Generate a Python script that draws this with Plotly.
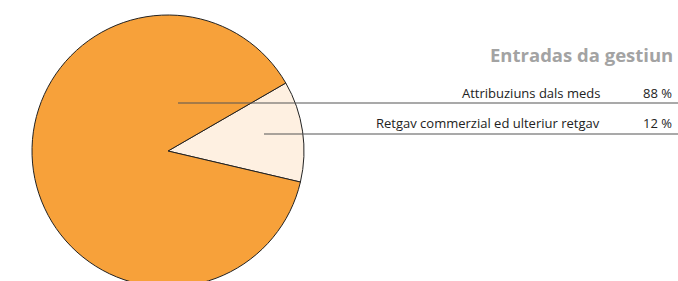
import plotly.graph_objects as go

# Data
labels = ["Retgav commerzial ed ulteriur retgav", "Attribuziuns dals meds"]
values = [12, 88]
colors = ["#FEF0E1", "#F7A13A"]
title_text = "Entradas da gestiun"

W, H = 678, 287

def px(x):
    return x / W

def py(y):
    return 1 - y / H

fig = go.Figure()
fig.add_trace(go.Pie(
    labels=labels,
    values=values,
    sort=False,
    direction="clockwise",
    rotation=60,
    marker=dict(colors=colors, line=dict(color="#222222", width=1)),
    textinfo="none",
    hoverinfo="label+percent",
    showlegend=False,
    domain=dict(x=[px(32), px(304)], y=[py(287), py(15)]),
))

font_family = "Open Sans, Noto Sans, sans-serif"

row_labels = [labels[1], labels[0]]
row_values = [values[1], values[0]]
row_text_y = [93, 123]
row_line_y = [103, 134]
row_line_x0 = [178, 264]

annotations = [dict(text="<b>" + title_text + "</b>", x=px(675), y=py(55), xref="paper", yref="paper",
                    xanchor="right", yanchor="middle", showarrow=False,
                    font=dict(size=18.5, color="#A3A3A3", family=font_family))]
shapes = []
for lab, val, ty, ly, lx0 in zip(row_labels, row_values, row_text_y, row_line_y, row_line_x0):
    annotations.append(dict(text=lab, x=px(602), y=py(ty), xref="paper", yref="paper",
                            xanchor="right", yanchor="middle", showarrow=False,
                            font=dict(size=13, color="#222222", family=font_family)))
    annotations.append(dict(text=f"{val} %", x=px(674), y=py(ty), xref="paper", yref="paper",
                            xanchor="right", yanchor="middle", showarrow=False,
                            font=dict(size=13, color="#222222", family=font_family)))
    shapes.append(dict(type="line", xref="paper", yref="paper", x0=px(lx0), x1=1.0,
                       y0=py(ly), y1=py(ly), line=dict(color="#555555", width=1.2)))

fig.update_layout(
    width=W, height=H,
    margin=dict(l=0, r=0, t=0, b=0),
    paper_bgcolor="white", plot_bgcolor="white",
    annotations=annotations,
    shapes=shapes,
)
fig.write_html(
    "out.html",
    config={"displayModeBar": False},
    post_script="document.body.style.margin='0';document.body.style.overflow='hidden';"
                "document.documentElement.style.overflow='hidden';",
)
